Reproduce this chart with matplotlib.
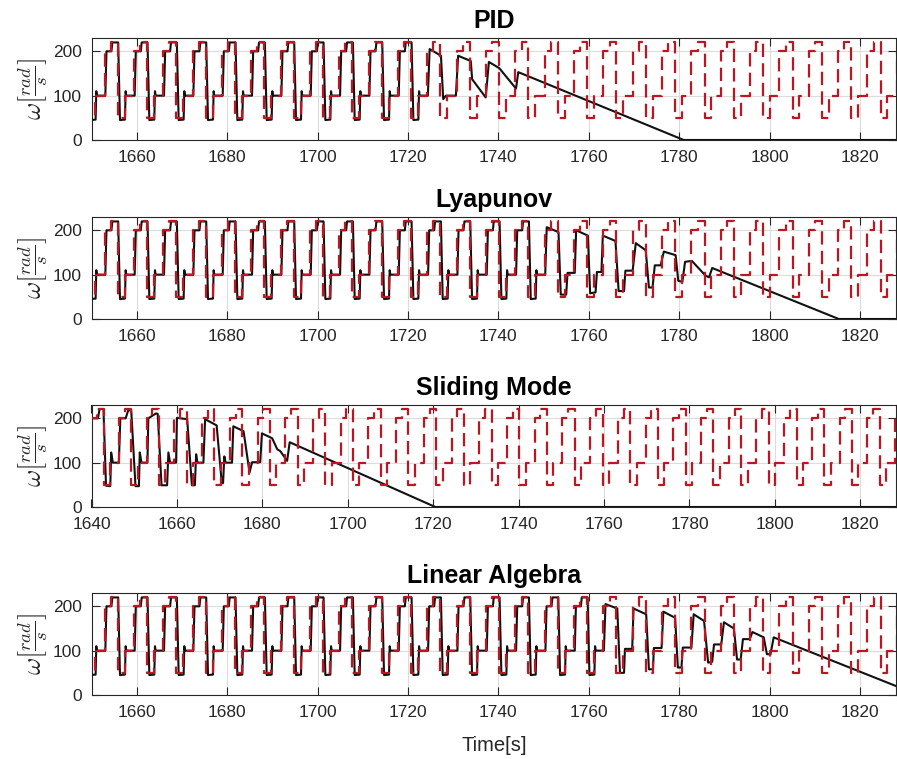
import numpy as np
import matplotlib
matplotlib.use('Agg')
import matplotlib.pyplot as plt

plt.rcParams['font.family'] = ['Liberation Sans', 'DejaVu Sans']
plt.rcParams['mathtext.fontset'] = 'cm'

# ---------------- data ----------------
# start times (s) of each reference cycle (moment the reference drops to its low level)
cycle_starts = [1636.33, 1642.82, 1649.31, 1655.80, 1662.29, 1668.78, 1675.27, 1681.76,
                1688.25, 1694.74, 1701.23, 1707.72, 1714.21, 1720.70, 1727.19, 1733.68,
                1740.17, 1746.66, 1753.15, 1759.64, 1766.13, 1772.62, 1779.11, 1785.60,
                1792.09, 1798.58, 1805.07, 1811.56, 1818.05, 1824.54, 1831.03]
# reference levels within one cycle and their offsets from the cycle start
ref_levels = [50, 100, 200, 220]
ref_offsets = [0.0, 1.5, 3.6, 4.95]

# measured speed while it still tracks: points within a cycle (offset s, value)
track_offsets = [0.1, 0.5, 1.6, 1.75, 1.9, 3.75, 4.0, 5.1, 5.3]
track_values = [220, 45, 46, 110, 100, 100, 200, 200, 220]

# PID
pid_track_until = 1724.4
pid_t = [1724.4, 1724.8, 1727.3, 1727.8, 1728.4, 1730.6, 1731.1, 1733.9, 1734.2, 1737.2,
         1737.9, 1740.2, 1743.9, 1744.4, 1781.0, 1829.0]
pid_v = [100, 205, 190, 92, 100, 100, 190, 178, 137, 96,
         176, 162, 116, 153, 0, 0]

# Lyapunov
lya_track_until = 1750.36
lya_t = [1750.36, 1750.7, 1753.3, 1753.8, 1755.0, 1755.3, 1756.9, 1757.2, 1759.8, 1760.3,
         1761.5, 1761.8, 1762.8, 1763.1, 1765.9, 1766.6, 1767.8, 1768.1, 1769.7, 1770.4,
         1772.6, 1773.3, 1774.1, 1774.6, 1775.9, 1776.6, 1779.2, 1779.8, 1780.7, 1781.3,
         1782.8, 1785.8, 1786.6, 1787.3, 1815.3, 1829.0]
lya_v = [100, 207, 196, 55, 55, 104, 104, 200, 188, 58,
         60, 106, 106, 188, 176, 63, 63, 109, 109, 171,
         155, 71, 71, 121, 121, 152, 144, 86, 84, 129,
         131, 98, 94, 115, 0, 0]

# Sliding Mode (fully listed)
sm_t = [1640.0, 1641.5, 1641.9, 1642.8, 1643.4, 1644.4, 1644.6, 1645.0, 1646.4, 1646.75,
        1648.0, 1648.6, 1649.3, 1650.3, 1651.1, 1651.3, 1651.7, 1653.1, 1653.3, 1655.1,
        1655.5, 1656.4, 1657.7, 1658.0, 1658.4, 1659.8, 1660.0, 1662.4, 1663.5, 1664.2,
        1664.5, 1664.8, 1666.2, 1666.6, 1669.3, 1670.5, 1670.8, 1671.1, 1671.4, 1672.9,
        1673.2, 1675.6, 1677.0, 1677.6, 1679.5, 1679.9, 1682.3, 1683.5, 1684.2, 1685.8,
        1686.4, 1720.5, 1829.0]
sm_v = [200, 200, 221, 221, 48, 47, 123, 100, 100, 200,
        200, 218, 218, 47, 47, 123, 100, 100, 200, 211,
        210, 49, 49, 123, 100, 100, 201, 198, 49, 49,
        119, 100, 100, 198, 184, 54, 54, 114, 100, 100,
        182, 171, 78, 101, 101, 166, 155, 130, 126, 104,
        146, 0, 0]

# Linear Algebra
la_track_until = 1763.34
la_t = [1763.34, 1763.7, 1766.3, 1766.9, 1767.8, 1768.0, 1769.6, 1769.9, 1772.7, 1773.3,
        1774.2, 1774.4, 1776.1, 1776.5, 1779.1, 1779.7, 1780.5, 1780.8, 1782.7, 1783.2,
        1785.5, 1786.4, 1787.3, 1787.7, 1789.3, 1789.9, 1792.1, 1792.8, 1793.6, 1794.1,
        1795.6, 1796.2, 1798.7, 1799.4, 1800.2, 1800.9, 1829.0]
la_v = [100, 205, 195, 50, 50, 104, 104, 195, 182, 58,
        58, 106, 106, 188, 174, 62, 62, 107, 107, 182,
        167, 73, 75, 114, 114, 164, 150, 80, 80, 126,
        126, 142, 130, 92, 92, 130, 16]

titles = ['PID', 'Lyapunov', 'Sliding Mode', 'Linear Algebra']
xlims = [(1650, 1828), (1650, 1828), (1640, 1828.4), (1650, 1828)]
xticks_list = [list(range(1660, 1821, 20)), list(range(1660, 1821, 20)),
               list(range(1640, 1821, 20)), list(range(1660, 1821, 20))]
yticks = [0, 100, 200]

# ---------------- build series ----------------
ref_t, ref_v = [], []
for c in cycle_starts:
    for o, l in zip(ref_offsets, ref_levels):
        ref_t.append(c + o)
        ref_v.append(l)


def tracked(until, extra_t, extra_v):
    tt, vv = [], []
    for c in cycle_starts:
        for o, v in zip(track_offsets, track_values):
            if c + o < until:
                tt.append(c + o)
                vv.append(v)
    return tt + list(extra_t), vv + list(extra_v)


black = [tracked(pid_track_until, pid_t, pid_v),
         tracked(lya_track_until, lya_t, lya_v),
         (sm_t, sm_v),
         tracked(la_track_until, la_t, la_v)]

# ---------------- figure ----------------
W, H = 897, 759
fig = plt.figure(figsize=(W / 100, H / 100), dpi=100)
tops = [38, 217, 405, 593]
axh = 102
left_px, right_px = 91.5, 896.2

red = '#BB1622'
dark = '#262626'
for i in range(4):
    ax = fig.add_axes([left_px / W, 1 - (tops[i] + axh) / H,
                       (right_px - left_px) / W, axh / H])
    bt, bv = black[i]
    ax.plot(bt, bv, color='#111111', lw=1.5, zorder=3)
    ax.plot(ref_t, ref_v, color=red, lw=1.6, drawstyle='steps-post',
            linestyle=(0, (6.0, 2.8)), zorder=4)
    ax.set_xlim(*xlims[i])
    ax.set_ylim(0, 230)
    ax.set_xticks(xticks_list[i])
    ax.set_yticks(yticks)
    ax.grid(True, color='#DCDCDC', lw=0.8)
    ax.set_axisbelow(True)
    ax.tick_params(direction='in', length=6, width=0.8, colors=dark,
                   labelsize=12.5, top=True, right=True, pad=7)
    for s in ax.spines.values():
        s.set_color(dark)
        s.set_linewidth(0.8)
    ax.set_title(titles[i], fontsize=18, fontweight='bold', pad=7)
    ax.set_ylabel(r'$\omega\left[\frac{rad}{s}\right]$', fontsize=19, color=dark, labelpad=2)
    if i == 3:
        ax.set_xlabel('Time[s]', fontsize=14.5, color=dark, labelpad=12)

fig.savefig('out.png', dpi=100)
